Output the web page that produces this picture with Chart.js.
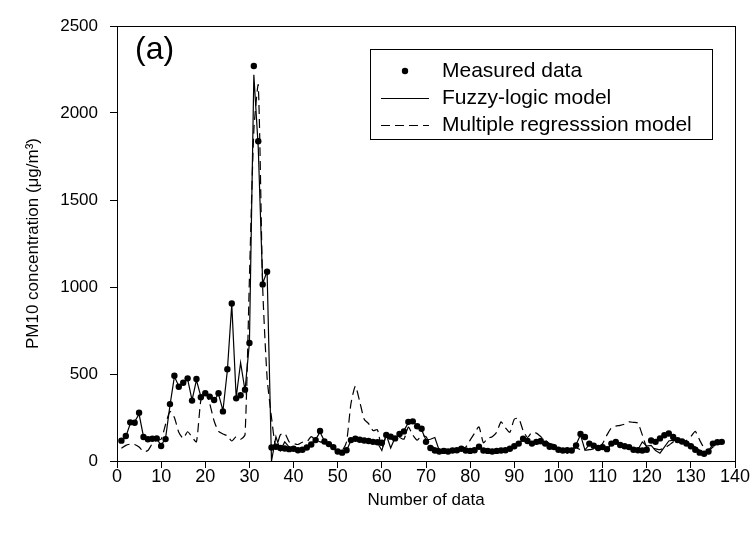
<!DOCTYPE html>
<html>
<head>
<title>PM10 chart</title>
<script src="https://cdn.jsdelivr.net/npm/chart.js@4.4.0/dist/chart.umd.min.js"></script>
<style>
  body { margin: 0; background: #fff; }
</style>
</head>
<body>
<canvas id="myChart" width="751" height="540"></canvas>
<script>
// values, data number 1..137
let measured = [117, 144, 222, 220, 278, 138, 125, 128, 130, 86,
  126, 327, 490, 427, 450, 475, 347, 471, 366, 389,
  370, 351, 389, 285, 527, 905, 360, 378, 410, 678,
  2270, 1838, 1015, 1088, 78, 82, 75, 72, 68, 70,
  62, 65, 78, 95, 120, 173, 112, 97, 80, 55,
  48, 62, 120, 128, 122, 118, 115, 110, 108, 105,
  150, 140, 130, 155, 170, 225, 228, 200, 185, 110,
  75, 60, 55, 58, 55, 60, 62, 70, 60, 58,
  62, 82, 60, 58, 55, 58, 60, 62, 70, 85,
  100, 128, 115, 100, 110, 115, 100, 82, 80, 65,
  60, 62, 60, 90, 155, 138, 100, 88, 75, 80,
  68, 100, 110, 92, 85, 80, 65, 62, 60, 65,
  118, 110, 130, 148, 158, 138, 120, 112, 100, 85,
  65, 48, 42, 55, 100, 108, 110];

let fuzzy = [110, 140, 215, 225, 270, 140, 120, 130, 128, 90,
  130, 320, 485, 430, 445, 470, 350, 465, 370, 385,
  372, 350, 385, 290, 520, 900, 365, 565, 405, 680,
  2220, 1800, 1020, 1090, 0, 140, 60, 110, 80, 60,
  65, 70, 75, 100, 125, 165, 115, 95, 75, 50,
  45, 60, 118, 125, 120, 115, 112, 108, 105, 60,
  150, 75, 135, 150, 175, 220, 225, 205, 180, 120,
  125, 135, 60, 55, 58, 62, 60, 65, 62, 60,
  65, 85, 62, 60, 58, 55, 62, 60, 72, 80,
  105, 120, 110, 105, 100, 100, 100, 100, 95, 70,
  62, 44, 60, 95, 150, 63, 95, 90, 80, 78,
  72, 95, 105, 90, 88, 82, 70, 65, 110, 85,
  90, 60, 45, 80, 115, 120, 115, 110, 105, 95,
  80, 60, 45, 60, 95, 105, 110];

let regression = [73, 90, 97, 95, 80, 55, 60, 100, 120, 125,
  210, 285, 250, 165, 130, 168, 138, 110, 350, 400,
  330, 230, 170, 155, 145, 115, 140, 125, 150, 1050,
  1900, 2160, 1000, 480, 250, 75, 150, 160, 110, 100,
  95, 108, 110, 140, 120, 110, 105, 85, 70, 55,
  60, 110, 330, 430, 340, 240, 215, 175, 180, 70,
  150, 130, 120, 135, 125, 195, 150, 120, 145, 140,
  90, 75, 70, 72, 65, 68, 70, 75, 80, 120,
  160, 196, 105, 130, 140, 165, 225, 190, 165, 240,
  245, 175, 135, 165, 160, 140, 120, 100, 90, 75,
  70, 65, 60, 75, 65, 62, 65, 70, 75, 100,
  150, 190, 200, 205, 212, 225, 222, 218, 150, 80,
  75, 70, 65, 75, 90, 110, 120, 115, 118, 140,
  170, 120, 75, 60, 80, 95, 100];

let xTicks = [0, 10, 20, 30, 40, 50, 60, 70, 80, 90, 100, 110, 120, 130, 140];
let yTicks = [0, 500, 1000, 1500, 2000, 2500];

let legendNames = ['Measured data', 'Fuzzy-logic model', 'Multiple regresssion model'];

function toPoints(values) {
    let pts = [];
    values.forEach((v, i) => {
        pts.push({ x: i + 1, y: v });
    });
    return pts;
}

const FONT = 'Arial, "Liberation Sans", sans-serif';

// frame, panel label and the boxed legend
const extras = {
    id: 'extras',
    afterDraw(chart) {
        const ctx = chart.ctx;
        const a = chart.chartArea;
        ctx.save();
        ctx.strokeStyle = '#000';
        ctx.lineWidth = 1;
        ctx.strokeRect(Math.round(a.left) + 0.5, Math.round(a.top) + 0.5,
            Math.round(a.right - a.left), Math.round(a.bottom - a.top));

        ctx.fillStyle = '#000';
        ctx.font = '32px ' + FONT;
        ctx.textBaseline = 'middle';
        ctx.fillText('(a)', 135, 50);

        // legend box
        ctx.strokeRect(370.5, 49.5, 342, 90);
        ctx.font = '21px ' + FONT;
        ctx.beginPath();
        ctx.arc(405, 71, 3.2, 0, Math.PI * 2);
        ctx.fill();
        ctx.fillText(legendNames[0], 442, 71);

        ctx.beginPath();
        ctx.moveTo(381, 98.5);
        ctx.lineTo(429, 98.5);
        ctx.stroke();
        ctx.fillText(legendNames[1], 442, 98);

        ctx.setLineDash([9, 5]);
        ctx.beginPath();
        ctx.moveTo(381, 125.5);
        ctx.lineTo(429, 125.5);
        ctx.stroke();
        ctx.setLineDash([]);
        ctx.fillText(legendNames[2], 442, 125);
        ctx.restore();
    }
};

let ctx = document.getElementById('myChart');
let myChart = new Chart(ctx, {
    type: 'line',
    data: {
        datasets: [
            {
                label: legendNames[2],
                data: toPoints(regression),
                borderColor: '#000',
                borderWidth: 1.2,
                borderDash: [9, 5],
                pointRadius: 0,
                fill: false,
                tension: 0.2,
                order: 3
            },
            {
                label: legendNames[1],
                data: toPoints(fuzzy),
                borderColor: '#000',
                borderWidth: 1.2,
                pointRadius: 0,
                fill: false,
                tension: 0,
                order: 2
            },
            {
                label: legendNames[0],
                data: toPoints(measured),
                showLine: false,
                pointRadius: 3.2,
                pointBackgroundColor: '#000',
                pointBorderColor: '#000',
                pointBorderWidth: 0,
                order: 1
            }
        ]
    },
    options: {
        responsive: false,
        animation: false,
        devicePixelRatio: 1,
        layout: { padding: { left: 0, right: 16, top: 26, bottom: 0 } },
        plugins: {
            legend: { display: false },
            tooltip: { enabled: false }
        },
        scales: {
            x: {
                type: 'linear',
                min: 0,
                max: 140,
                afterFit: function(scale) { scale.height = 79; },
                afterBuildTicks: function(scale) {
                    scale.ticks = xTicks.map(v => ({ value: v }));
                },
                grid: { drawOnChartArea: false, drawTicks: true, tickLength: 7, color: '#000' },
                border: { display: true, color: '#000' },
                ticks: {
                    color: '#000',
                    font: { family: FONT, size: 18 },
                    padding: -2,
                    maxRotation: 0,
                    callback: function(v) { return String(v); }
                },
                title: {
                    display: true,
                    text: 'Number of data',
                    color: '#000',
                    font: { family: FONT, size: 17 },
                    padding: { top: 29, bottom: 29 }
                }
            },
            y: {
                type: 'linear',
                min: 0,
                max: 2500,
                afterFit: function(scale) { scale.width = 117; },
                afterBuildTicks: function(scale) {
                    scale.ticks = yTicks.map(v => ({ value: v }));
                },
                grid: { drawOnChartArea: false, drawTicks: true, tickLength: 7, color: '#000' },
                border: { display: true, color: '#000' },
                ticks: {
                    color: '#000',
                    font: { family: FONT, size: 17 },
                    padding: 12,
                    callback: function(v) { return String(v); }
                },
                title: {
                    display: true,
                    text: 'PM10 concentration (μg/m³)',
                    color: '#000',
                    font: { family: FONT, size: 17 },
                    padding: { top: 23, bottom: 23 }
                }
            }
        }
    },
    plugins: [extras]
});
</script>
</body>
</html>
